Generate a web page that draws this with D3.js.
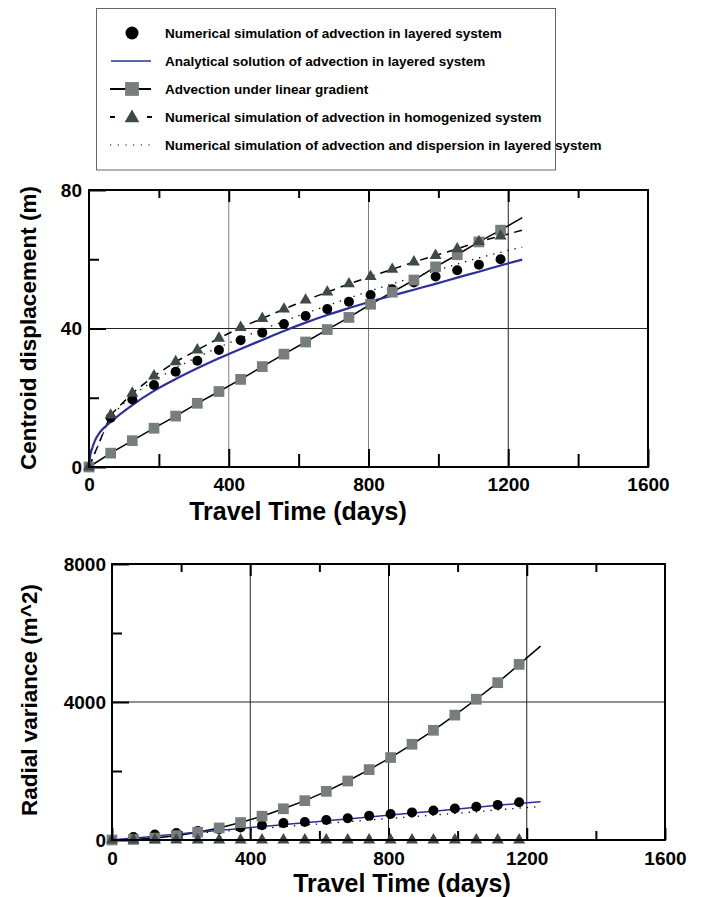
<!DOCTYPE html>
<html>
<head>
<meta charset="utf-8">
<script src="https://cdn.jsdelivr.net/npm/d3@7"></script>
<style>
  body { margin: 0; background: #fff; }
  text { font-family: "Liberation Sans", Arial, sans-serif; font-weight: bold; fill: #000; }
</style>
</head>
<body>
<script>
// travel time samples (days); markers stop at 1178, lines run to 1240
const times = [0, 62, 124, 186, 248, 310, 372, 434, 496, 558, 620, 682, 744, 806, 868, 930, 992, 1054, 1116, 1178, 1240];
const analyticTimes = [0, 2, 8, 17, 31, 62, 124, 186, 248, 310, 372, 434, 496, 558, 620, 682, 744, 806, 868, 930, 992, 1054, 1116, 1178, 1240];

// centroid displacement (m)
const dispLayered = [0, 14.2, 19.5, 23.7, 27.5, 30.7, 33.8, 36.6, 38.8, 41.3, 43.6, 45.6, 47.7, 49.7, 51.3, 53.3, 55.0, 56.8, 58.4, 60.0];
const dispAnalytic = [0, 2.5, 5, 7.6, 10, 13, 17.9, 22, 25.4, 28.5, 31.4, 34.1, 36.7, 39.3, 41.7, 43.9, 45.9, 47.8, 49.5, 51.2, 52.9, 54.7, 56.4, 58.2, 59.9];
const dispLinear = [0, 4.0, 7.6, 11.2, 14.7, 18.4, 21.8, 25.3, 29.0, 32.6, 36.1, 39.7, 43.2, 47.0, 50.5, 54.0, 57.8, 61.3, 65.0, 68.4, 72.0];
const dispHomog = [0, 15.0, 21.3, 26.3, 30.4, 33.8, 37.2, 40.3, 42.9, 45.6, 48.2, 50.5, 52.9, 55.0, 57.1, 59.2, 61.1, 63.0, 65.1, 66.7, 68.4];
const dispDispersion = [0, 14.8, 20.6, 25.0, 28.6, 31.8, 34.6, 37.2, 39.7, 42.1, 44.4, 46.6, 48.8, 50.9, 52.9, 54.8, 56.7, 58.6, 60.4, 62.0, 63.5];

// radial variance (m^2)
const varLayered = [0, 85, 160, 205, 260, 310, 360, 430, 490, 520, 580, 630, 700, 754, 800, 855, 912, 965, 1018, 1093];
const varAnalytic = [0, 55, 110, 170, 225, 280, 335, 390, 445, 500, 556, 612, 668, 724, 780, 836, 892, 948, 1004, 1060, 1110];
const varLinear = [0, 15, 55, 125, 225, 350, 505, 690, 905, 1140, 1410, 1710, 2040, 2390, 2775, 3180, 3620, 4080, 4560, 5090, 5620];
const varHomog = [0, 0, 0, 0, 0, 0, 0, 0, 0, 0, 0, 0, 0, 0, 0, 0, 0, 0, 0, 0, 0];
const varDispersion = [0, 50, 100, 148, 196, 243, 290, 338, 386, 434, 482, 530, 578, 626, 674, 722, 770, 818, 875, 925, 968];

const xTicks = [0, 400, 800, 1200, 1600];
const xMinor = [200, 600, 1000, 1400];

const legendLabels = [
  "Numerical simulation of advection in layered system",
  "Analytical solution of advection in layered system",
  "Advection under linear gradient",
  "Numerical simulation of advection in homogenized system",
  "Numerical simulation of advection and dispersion in layered system"
];

const blue = "#2d2f9a";
const squareGrey = "#787d7d";
const triGrey = "#3e4a4a";

const svg = d3.select("body").append("svg")
  .attr("width", 706)
  .attr("height", 897);

// ---- legend ----
const legend = svg.append("g");
legend.append("rect")
  .attr("x", 96.5).attr("y", 8.5)
  .attr("width", 459).attr("height", 161.5)
  .attr("fill", "none")
  .attr("stroke", "#666")
  .attr("stroke-width", 1);

const rowY = (i) => 33 + i * 28;
legend.selectAll("text.lab")
  .data(legendLabels)
  .join("text")
  .attr("class", "lab")
  .attr("x", 165)
  .attr("y", (d, i) => rowY(i) + 5)
  .attr("font-size", "13.5px")
  .text(d => d);

legend.append("circle").attr("cx", 132).attr("cy", rowY(0)).attr("r", 6.5).attr("fill", "#000");
legend.append("line").attr("x1", 111).attr("x2", 151).attr("y1", rowY(1)).attr("y2", rowY(1))
  .attr("stroke", blue).attr("stroke-width", 1.5);
legend.append("line").attr("x1", 110).attr("x2", 151).attr("y1", rowY(2)).attr("y2", rowY(2))
  .attr("stroke", "#000").attr("stroke-width", 2);
legend.append("path").attr("d", d3.symbol(d3.symbolSquare, 190)())
  .attr("transform", `translate(132,${rowY(2)})`).attr("fill", squareGrey);
legend.append("line").attr("x1", 110).attr("x2", 152).attr("y1", rowY(3)).attr("y2", rowY(3))
  .attr("stroke", "#000").attr("stroke-width", 2).attr("stroke-dasharray", "5,32");
legend.append("path").attr("d", d3.symbol(d3.symbolTriangle, 95)())
  .attr("transform", `translate(132,${rowY(3) + 1})`).attr("fill", triGrey);
legend.append("line").attr("x1", 110).attr("x2", 152).attr("y1", rowY(4)).attr("y2", rowY(4))
  .attr("stroke", "#000").attr("stroke-width", 1.2).attr("stroke-dasharray", "1.2,6.5");

// ---- panels ----
const drawPanel = (cfg) => {
  const x = d3.scaleLinear().domain([0, 1600]).range(cfg.xRange);
  const y = d3.scaleLinear().domain([0, cfg.yMax]).range(cfg.yRange);
  const g = svg.append("g");
  const top = cfg.yRange[1], bottom = cfg.yRange[0];
  const left = cfg.xRange[0], right = cfg.xRange[1];

  // grid lines
  g.selectAll("line.vgrid")
    .data([400, 800, 1200])
    .join("line")
    .attr("x1", d => x(d)).attr("x2", d => x(d))
    .attr("y1", top).attr("y2", bottom)
    .attr("stroke", (d, i) => cfg.vGridColors[i])
    .attr("stroke-width", 1);
  g.append("line")
    .attr("x1", left).attr("x2", right)
    .attr("y1", y(cfg.yMax / 2)).attr("y2", y(cfg.yMax / 2))
    .attr("stroke", "#222").attr("stroke-width", 1);

  // axes with inward ticks
  const fmt = d3.format("d");
  const styleAxis = (sel) => {
    sel.select(".domain").remove();
    sel.selectAll(".tick line").attr("stroke", "#000").attr("stroke-width", 2);
    sel.selectAll("text").attr("font-size", "19px").attr("font-family", null).attr("fill", "#000");
    sel.attr("font-family", null);
  };
  g.append("g").attr("transform", `translate(0,${bottom})`)
    .call(d3.axisBottom(x).tickValues(xTicks).tickFormat(fmt).tickSize(-cfg.bottomMajor).tickPadding(cfg.xPad))
    .call(styleAxis);
  g.append("g").attr("transform", `translate(0,${bottom})`)
    .call(d3.axisBottom(x).tickValues(xMinor).tickFormat("").tickSize(-cfg.bottomMinor))
    .call(styleAxis);
  g.append("g").attr("transform", `translate(0,${top})`)
    .call(d3.axisTop(x).tickValues([400, 800, 1200]).tickFormat("").tickSize(-12))
    .call(styleAxis);
  g.append("g").attr("transform", `translate(0,${top})`)
    .call(d3.axisTop(x).tickValues(xMinor).tickFormat("").tickSize(-8))
    .call(styleAxis);
  g.append("g").attr("transform", `translate(${left},0)`)
    .call(d3.axisLeft(y).tickValues(cfg.yTicks).tickFormat(fmt).tickSize(-17).tickPadding(cfg.yPad))
    .call(styleAxis);
  g.append("g").attr("transform", `translate(${left},0)`)
    .call(d3.axisLeft(y).tickValues(cfg.yMinor).tickFormat("").tickSize(-10))
    .call(styleAxis);

  // lines
  const line = d3.line().x(d => x(d[0])).y(d => y(d[1]));
  const pairs = (ts, vs) => vs.map((v, i) => [ts[i], v]);

  g.append("path").datum(pairs(times, cfg.dispersion))
    .attr("d", line).attr("fill", "none")
    .attr("stroke", "#000").attr("stroke-width", 1.3).attr("stroke-dasharray", "1.3,6");
  g.append("path").datum(pairs(times, cfg.homog))
    .attr("d", line).attr("fill", "none")
    .attr("stroke", "#000").attr("stroke-width", 1.5).attr("stroke-dasharray", "8,6");
  g.append("path").datum(pairs(times, cfg.linear))
    .attr("d", line).attr("fill", "none")
    .attr("stroke", "#000").attr("stroke-width", 1.5);
  g.append("path").datum(pairs(cfg.analyticTimes, cfg.analytic))
    .attr("d", line.curve(d3.curveMonotoneX)).attr("fill", "none")
    .attr("stroke", blue).attr("stroke-width", cfg.blueWidth);

  // markers
  g.selectAll("circle.layered")
    .data(pairs(times, cfg.layered))
    .join("circle")
    .attr("class", "layered")
    .attr("cx", d => x(d[0])).attr("cy", d => y(d[1]))
    .attr("r", 5).attr("fill", "#000");
  g.selectAll("path.sq")
    .data(pairs(times, cfg.linear).filter(d => d[0] < 1200))
    .join("path")
    .attr("class", "sq")
    .attr("d", d3.symbol(d3.symbolSquare, 115)())
    .attr("transform", d => `translate(${x(d[0])},${y(d[1])})`)
    .attr("fill", squareGrey);
  g.selectAll("path.tri")
    .data(pairs(times, cfg.homog).filter(d => d[0] < 1200))
    .join("path")
    .attr("class", "tri")
    .attr("d", d3.symbol(d3.symbolTriangle, 62)())
    .attr("transform", d => `translate(${x(d[0])},${y(d[1])})`)
    .attr("fill", triGrey);

  // frame
  g.append("rect")
    .attr("x", left).attr("y", top)
    .attr("width", right - left).attr("height", bottom - top)
    .attr("fill", "none").attr("stroke", "#000").attr("stroke-width", 2);

  // titles
  g.append("text")
    .attr("x", cfg.xTitle[0]).attr("y", cfg.xTitle[1])
    .attr("text-anchor", "middle").attr("font-size", "25px")
    .text("Travel Time (days)");
  g.append("text")
    .attr("transform", `translate(${cfg.yTitle[0]},${cfg.yTitle[1]}) rotate(-90)`)
    .attr("text-anchor", "middle").attr("font-size", "22.5px")
    .text(cfg.yLabel);
};

drawPanel({
  xRange: [89, 648], yRange: [467, 190], yMax: 80,
  yTicks: [0, 40, 80], yMinor: [20, 60],
  vGridColors: ["#808080", "#808080", "#222"],
  bottomMajor: 18, bottomMinor: 13, xPad: 11, yPad: 7,
  layered: dispLayered, analyticTimes: analyticTimes, analytic: dispAnalytic,
  linear: dispLinear, homog: dispHomog, dispersion: dispDispersion,
  blueWidth: 2.2,
  xTitle: [298, 520], yTitle: [36, 328],
  yLabel: "Centroid displacement (m)"
});

drawPanel({
  xRange: [112, 665], yRange: [840, 564], yMax: 8000,
  yTicks: [0, 4000, 8000], yMinor: [2000, 6000],
  vGridColors: ["#222", "#222", "#222"],
  bottomMajor: 12, bottomMinor: 9, xPad: 12, yPad: 6,
  layered: varLayered, analyticTimes: times, analytic: varAnalytic,
  linear: varLinear, homog: varHomog, dispersion: varDispersion,
  blueWidth: 1.5,
  xTitle: [402, 892], yTitle: [37, 700],
  yLabel: "Radial variance (m^2)"
});
</script>
</body>
</html>
